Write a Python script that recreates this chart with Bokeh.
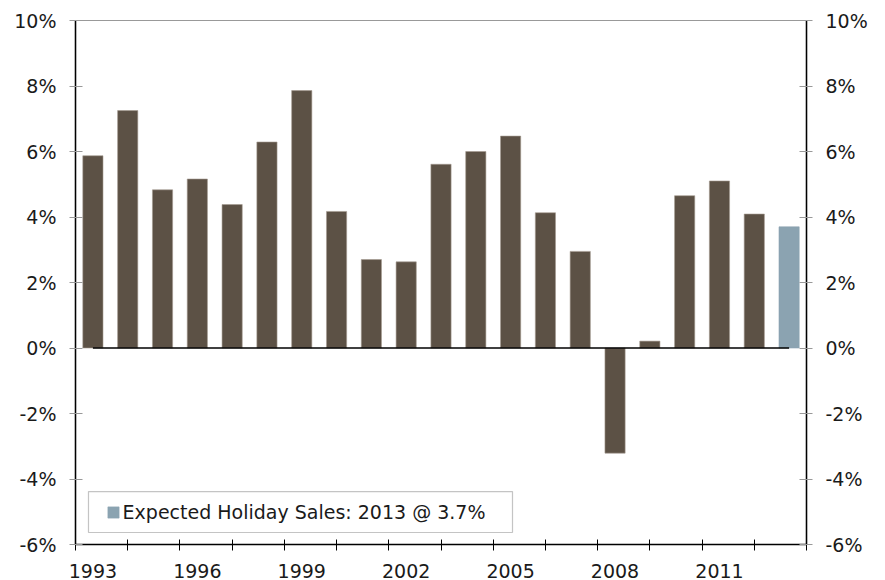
from bokeh.plotting import figure
from bokeh.models import (ColumnDataSource, LinearAxis, FixedTicker, PrintfTickFormatter,
                          Range1d, Legend, LegendItem, BoxAnnotation)
from bokeh.embed import file_html
from bokeh.resources import INLINE

# ---- data ----
years = list(range(1993, 2014))
growth = [5.87, 7.25, 4.83, 5.16, 4.38, 6.29, 7.86, 4.17, 2.70, 2.63, 5.61,
          6.00, 6.47, 4.13, 2.95, -3.21, 0.21, 4.65, 5.10, 4.09, 3.7]
label_years = [1993, 1996, 1999, 2002, 2005, 2008, 2011]
y_ticks = [-6, -4, -2, 0, 2, 4, 6, 8, 10]

FONT = "DejaVu Sans"
FS = "19px"
TXT = "#1a1a1a"
BAR = "#5C5145"
FC = "#8BA3B1"

hist = ColumnDataSource(dict(x=years[:-1], top=growth[:-1]))
fcst = ColumnDataSource(dict(x=years[-1:], top=growth[-1:]))

p = figure(width=885, height=580,
           x_range=Range1d(years[0] - 0.5, years[-1] + 0.5),
           y_range=Range1d(y_ticks[0], y_ticks[-1]),
           x_axis_type=None, y_axis_type=None,
           output_backend="svg", toolbar_location=None,
           min_border_left=75, min_border_right=79,
           min_border_top=20, min_border_bottom=35)
p.outline_line_color = "#999999"
p.outline_line_width = 1.2
p.background_fill_color = "white"
p.border_fill_color = "white"


def y_axis():
    return LinearAxis(ticker=FixedTicker(ticks=y_ticks),
                      formatter=PrintfTickFormatter(format="%d%%"),
                      axis_line_color="black", axis_line_width=1.5,
                      major_tick_line_color="#999999", major_tick_line_width=1.2,
                      major_tick_in=7, major_tick_out=6,
                      minor_tick_line_color=None,
                      major_label_standoff=13,
                      major_label_text_font=FONT,
                      major_label_text_font_size=FS,
                      major_label_text_color=TXT)


p.add_layout(y_axis(), "left")
p.add_layout(y_axis(), "right")

n_minor = int(len(years) / 1.5) + 1
minor = [years[0] - 0.5 + 1.5 * k for k in range(n_minor)]
xaxis = LinearAxis(ticker=FixedTicker(ticks=label_years, minor_ticks=minor),
                   formatter=PrintfTickFormatter(format="%d"),
                   axis_line_color="black", axis_line_width=1.5,
                   major_tick_in=0, major_tick_out=0,
                   minor_tick_in=5, minor_tick_out=6,
                   minor_tick_line_color="black", minor_tick_line_width=1,
                   major_label_standoff=13,
                   major_label_text_font=FONT,
                   major_label_text_font_size=FS,
                   major_label_text_color=TXT)
p.add_layout(xaxis, "below")

p.vbar(x="x", top="top", bottom=0, width=0.58, source=hist,
       fill_color=BAR, line_color="#a49a90", line_width=0.6)
r_fc = p.vbar(x="x", top="top", bottom=0, width=0.58, source=fcst,
              fill_color=FC, line_color=FC, line_width=0.6)

p.segment(x0=[years[0]], y0=[0], x1=[years[-1]], y1=[0],
          line_color="black", line_width=1.5)

box = BoxAnnotation(left=1992.873, right=2005.054, bottom=-5.634, top=-4.385,
                    fill_alpha=0, line_color="#3a3a3a", line_width=1.2)
p.add_layout(box)

legend = Legend(items=[LegendItem(label=f"Expected Holiday Sales: {years[-1]} @ {growth[-1]}%",
                                  renderers=[r_fc])],
                location=(30.6, 21), padding=0, margin=0, spacing=0,
                border_line_color=None, background_fill_alpha=0,
                glyph_width=14, glyph_height=14, label_standoff=3,
                label_text_font=FONT, label_text_font_size=FS,
                label_text_color=TXT)
p.add_layout(legend)

open("out.html", "w").write(file_html(p, INLINE))
